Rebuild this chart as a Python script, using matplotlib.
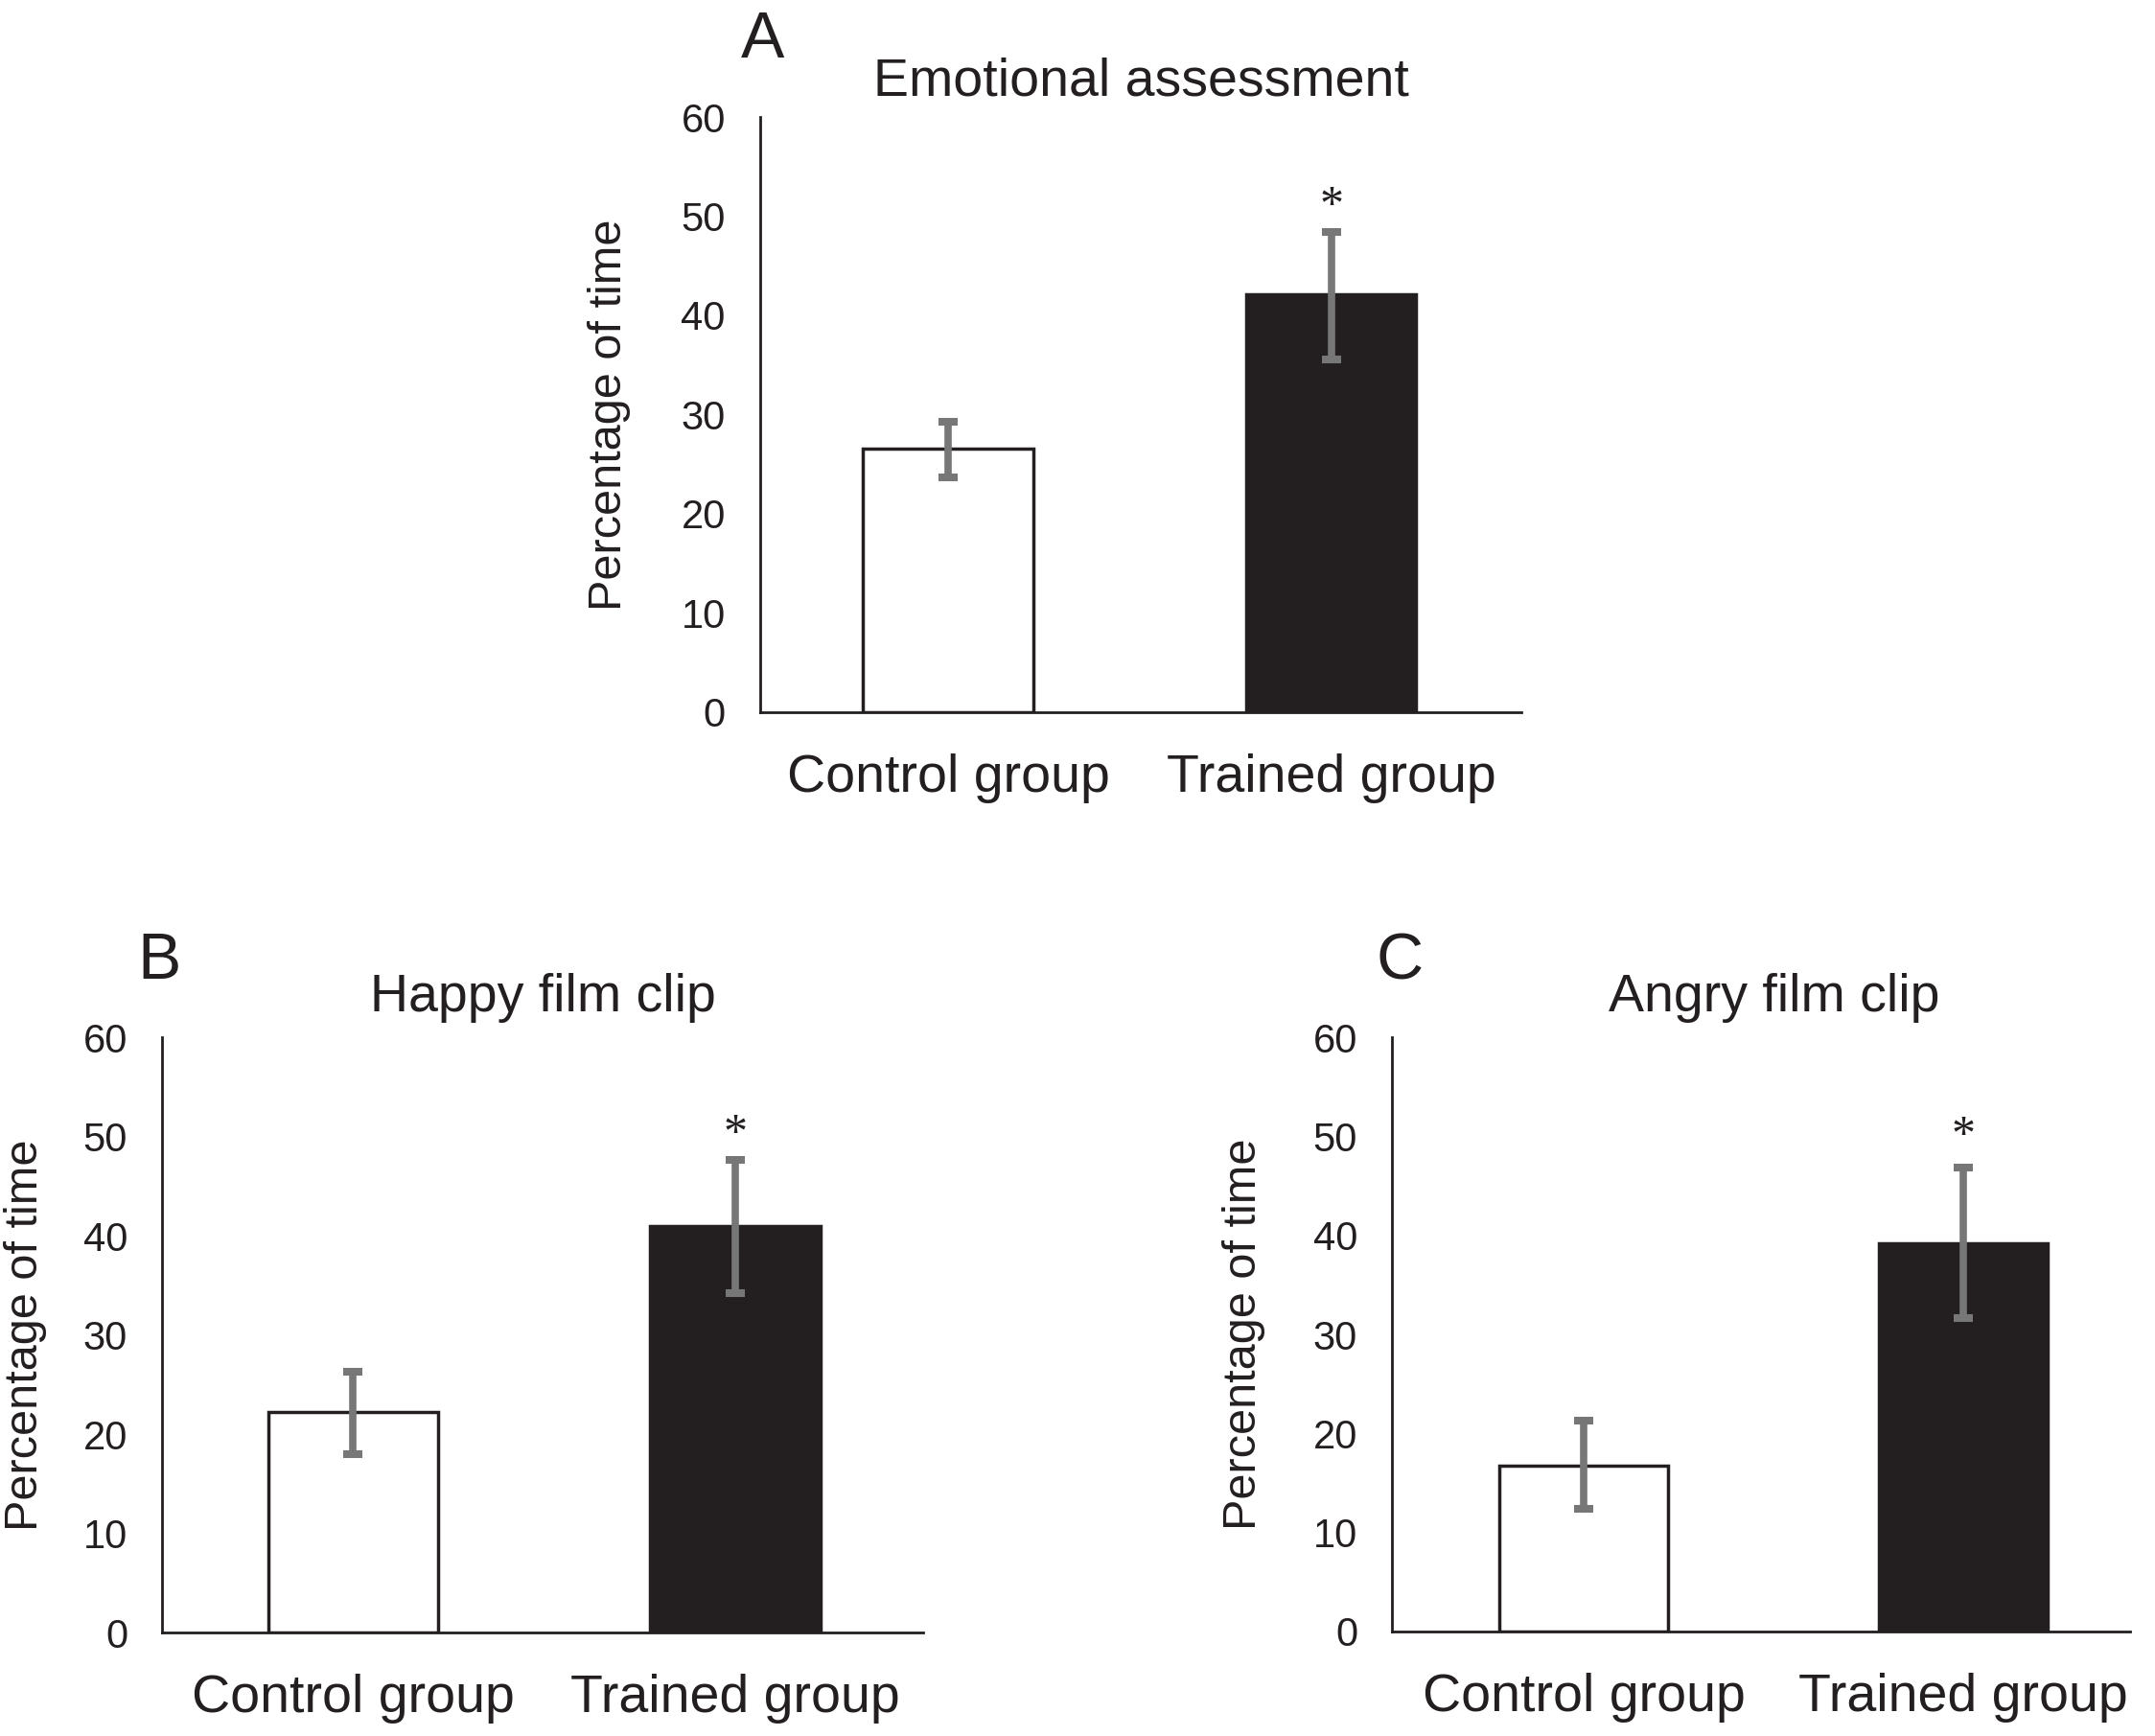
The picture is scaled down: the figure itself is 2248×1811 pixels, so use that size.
import matplotlib
matplotlib.use("Agg")
import matplotlib.pyplot as plt

plt.rcParams['font.family'] = ['Liberation Sans', 'DejaVu Sans']

# data (percentage of time)
groups = ["Control group", "Trained group"]
titles = ["Emotional assessment", "Happy film clip", "Angry film clip"]
letters = ["A", "B", "C"]
means = [[26.5, 42.1], [22.3, 41.0], [16.7, 39.2]]
err_hi = [[29.3, 48.4], [26.3, 47.7], [21.3, 46.9]]
err_lo = [[23.6, 35.5], [18.0, 34.2], [12.4, 31.7]]
star_y = [50.9, 50.2, 50.0]
yticks = [0, 10, 20, 30, 40, 50, 60]

fig = plt.figure(figsize=(22.48, 18.11), dpi=100)

# axes rectangles in figure fractions
rects = [[0.3527, 0.590, 0.3533, 0.3426],
         [0.0753, 0.0595, 0.3532, 0.3428],
         [0.6460, 0.0603, 0.3426, 0.3420]]
xlims = [(-0.492, 1.497), (-0.5, 1.493), (-0.505, 1.44)]
title_pads = [16, 20, 20]
title_x = [0.5, 0.5, 0.518]
ylab_x = [-0.170, -0.1515, -0.172]
letter_pos = [(0.344, 0.967), (0.0638, 0.4362), (0.6384, 0.4362)]

dark = "#231f20"
grey = "#777777"

for i in range(3):
    ax = fig.add_axes(rects[i])
    x = [0, 1]
    ax.bar(x, means[i], width=0.445, color=["white", dark],
           edgecolor=dark, linewidth=2.5, zorder=2)
    lo = [m - l for m, l in zip(means[i], err_lo[i])]
    hi = [h - m for m, h in zip(means[i], err_hi[i])]
    ax.errorbar(x, means[i], yerr=[lo, hi], fmt="none", ecolor=grey,
                elinewidth=5.5, capsize=7, capthick=5.8, zorder=3)
    ax.text(1, star_y[i], "*", ha="center", va="center", fontsize=36,
            family="Liberation Serif", color=dark)

    ax.set_xlim(*xlims[i])
    ax.set_ylim(0, 60)
    ax.set_yticks(yticks)
    ax.set_xticks(x)
    ax.set_xticklabels(groups, fontsize=40, color=dark)
    ax.tick_params(axis="y", length=0, pad=26, labelsize=30, labelcolor=dark)
    ax.tick_params(axis="x", length=0, pad=31)
    for s in ["top", "right"]:
        ax.spines[s].set_visible(False)
    for s in ["left", "bottom"]:
        ax.spines[s].set_linewidth(2)
        ax.spines[s].set_color(dark)

    ax.set_title(titles[i], fontsize=40, pad=title_pads[i], color=dark,
                 x=title_x[i])
    ax.set_ylabel("Percentage of time", fontsize=35, color=dark)
    ax.yaxis.set_label_coords(ylab_x[i], 0.5)

    fig.text(letter_pos[i][0], letter_pos[i][1], letters[i], fontsize=49,
             va="baseline", ha="left", color=dark)

fig.savefig("out.png", dpi=100)
